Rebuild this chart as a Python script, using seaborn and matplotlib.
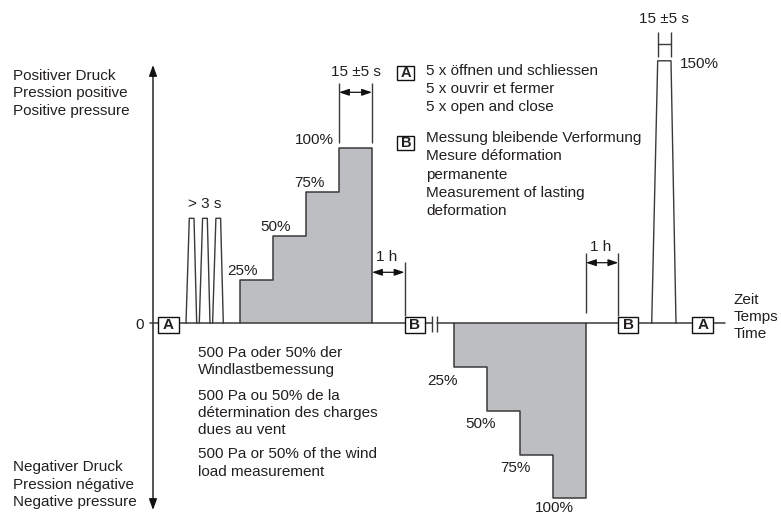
import numpy as np
import matplotlib
matplotlib.use("Agg")
import matplotlib.pyplot as plt
from matplotlib.patches import Rectangle
import seaborn as sns

# test sequence values (percent of test pressure)
pos_steps = [25, 50, 75, 100]
neg_steps = [-25, -50, -75, -100]
pulse_levels = [60, 60, 60]
peak_level = 150
step_labels = ["25%", "50%", "75%", "100%"]

left_top = ["Positiver Druck", "Pression positive", "Positive pressure"]
left_bottom = ["Negativer Druck", "Pression négative", "Negative pressure"]
time_label = ["Zeit", "Temps", "Time"]
legend_a = ["5 x öffnen und schliessen", "5 x ouvrir et fermer", "5 x open and close"]
legend_b = ["Messung bleibende Verformung", "Mesure déformation", "permanente",
            "Measurement of lasting", "deformation"]
note_lines = ["500 Pa oder 50% der", "Windlastbemessung",
              "500 Pa ou 50% de la", "détermination des charges", "dues au vent",
              "500 Pa or 50% of the wind", "load measurement"]

sns.set_theme(style="white")
plt.rcParams['font.family'] = ['Liberation Sans', 'DejaVu Sans']

LINE = '#3a3a3a'
FILL = '#bdbec1'
TXT = '#231f20'
FS = 11

ZERO_PIX = 323.3
PIX_PER_PCT = 1.75


def py(pix):
    # pixel row -> pressure value
    return (ZERO_PIX - pix) / PIX_PER_PCT


fig = plt.figure(figsize=(7.81, 5.16), dpi=100)
ax = fig.add_axes([0, 0, 1, 1])
ax.set_xlim(0, 781)
ax.set_ylim(py(516), py(0))
ax.axis('off')


def stair_outline(x0, w, levels):
    xs, ys = [x0], [0]
    for i, lv in enumerate(levels):
        xs += [x0 + i * w, x0 + (i + 1) * w]
        ys += [lv, lv]
    xs.append(x0 + len(levels) * w)
    ys.append(0)
    return xs, ys


def vline(x, p1, p2, lw=1.0):
    ax.plot([x, x], [py(p1), py(p2)], color=LINE, lw=lw, solid_capstyle='butt')


def dim_arrow(x1, x2, pix):
    ax.annotate('', xy=(x2, py(pix)), xytext=(x1, py(pix)),
                arrowprops=dict(arrowstyle='<|-|>,head_length=0.5,head_width=0.17',
                                color='#111111', lw=0.9, shrinkA=0, shrinkB=0))


def box(x0, x1, p0, p1, letter, fs=FS):
    ax.add_patch(Rectangle((x0, py(p1)), x1 - x0, py(p0) - py(p1), fc='white',
                           ec='#111111', lw=1.0, zorder=5))
    ax.text((x0 + x1) / 2, py((p0 + p1) / 2 + 0.5), letter, ha='center', va='center',
            fontsize=fs, fontweight='bold', color=TXT, zorder=6)


# vertical pressure axis
ax.annotate('', xy=(153, py(65)), xytext=(153, py(510)),
            arrowprops=dict(arrowstyle='<|-|>,head_length=0.55,head_width=0.2',
                            color='#111111', lw=1.0, shrinkA=0, shrinkB=0))

# zero (time) line with break mark
ax.plot([150, 431.7], [0, 0], color=LINE, lw=1.1, zorder=3)
ax.plot([437.3, 725], [0, 0], color=LINE, lw=1.1, zorder=3)
vline(431.7, 315.5, 331.5)
vline(437.3, 315.5, 331.5)

# three short pulses
for i, lv in enumerate(pulse_levels):
    x0 = 186 + i * 13.3
    sns.lineplot(x=[x0, x0 + 3.3, x0 + 8, x0 + 10.7], y=[0, lv, lv, 0], sort=False,
                 estimator=None, color=LINE, lw=1.0, ax=ax)
ax.text(205, py(204), "> 3 s", ha='center', va='center', fontsize=FS, color=TXT)

# positive staircase
w = 33
x0 = 240
edges = x0 + w * np.arange(len(pos_steps) + 1)
ax.fill_between(edges, np.append(pos_steps, pos_steps[-1]), 0, step='post',
                color=FILL, lw=0, zorder=1)
xs, ys = stair_outline(x0, w, pos_steps)
sns.lineplot(x=xs, y=ys, sort=False, estimator=None, color=LINE, lw=1.1, ax=ax)
for i, (lv, lab) in enumerate(zip(pos_steps, step_labels)):
    if i < 3:
        ax.text(x0 + i * w + 3, lv + 5, lab, ha='center', va='center', fontsize=FS, color=TXT)
    else:
        ax.text(x0 + i * w - 5, lv + 5, lab, ha='right', va='center', fontsize=FS, color=TXT)

# 15 +-5 s dimension above 100%
vline(edges[3], 82.7, 143.3)
vline(edges[4], 82.7, 143.3)
dim_arrow(edges[3], edges[4], 92.3)
ax.text((edges[3] + edges[4]) / 2, py(71.5), "15 ±5 s", ha='center', va='center',
        fontsize=FS, color=TXT)

# 1 h after positive
vline(404.5, 262.3, 316)
dim_arrow(edges[4], 404.5, 272.3)
ax.text(387, py(256.5), "1 h", ha='center', va='center', fontsize=FS, color=TXT)

# negative staircase
xn = 454
nedges = xn + w * np.arange(len(neg_steps) + 1)
ax.fill_between(nedges, np.append(neg_steps, neg_steps[-1]), 0, step='post',
                color=FILL, lw=0, zorder=1)
xs, ys = stair_outline(xn, w, neg_steps)
sns.lineplot(x=xs, y=ys, sort=False, estimator=None, color=LINE, lw=1.1, ax=ax)
offs = [-11, -6, -5, 1]
for i, (lv, lab) in enumerate(zip(neg_steps, step_labels)):
    dy = 7.7 if i < 3 else 5.6
    ax.text(nedges[i] + offs[i], lv - dy, lab, ha='center', va='center', fontsize=FS, color=TXT)

# 1 h after negative
vline(nedges[4], 252.7, 313)
vline(618.3, 252.7, 316)
dim_arrow(nedges[4], 618.3, 262.7)
ax.text(601, py(247.3), "1 h", ha='center', va='center', fontsize=FS, color=TXT)

# 150% peak
sns.lineplot(x=[651.7, 657.7, 671, 676], y=[0, peak_level, peak_level, 0], sort=False,
             estimator=None, color=LINE, lw=1.0, ax=ax)
ax.text(680, py(64.5), f"{peak_level}%", ha='left', va='center', fontsize=FS, color=TXT)
vline(657.5, 32.3, 57.3)
vline(671, 32.3, 57.3)
ax.plot([657.5, 671], [py(44.3), py(44.3)], color=LINE, lw=1.0)
ax.text(664.3, py(19), "15 ±5 s", ha='center', va='center', fontsize=FS, color=TXT)

# marker boxes on the time line
box(158, 179, 316.7, 333, "A")
box(405, 425, 316.7, 333, "B")
box(618.3, 638.3, 316.7, 333, "B")
box(692.3, 713.3, 316.7, 333, "A")

# legend boxes
box(397.3, 414.3, 65.5, 79.5, "A", fs=10.5)
box(397.3, 414.3, 135.5, 149.5, "B", fs=10.5)
for i, t in enumerate(legend_a):
    ax.text(426, py(71 + i * 18), t, ha='left', va='center', fontsize=FS, color=TXT)
for i, t in enumerate(legend_b):
    ax.text(426, py(138 + i * 18.3), t, ha='left', va='center', fontsize=FS, color=TXT)

# left axis texts
ax.text(140, py(325), "0", ha='center', va='center', fontsize=FS, color=TXT)
for i, t in enumerate(left_top):
    ax.text(13, py(75.5 + i * 17.5), t, ha='left', va='center', fontsize=FS, color=TXT)
for i, t in enumerate(left_bottom):
    ax.text(13, py(467 + i * 17.5), t, ha='left', va='center', fontsize=FS, color=TXT)
for i, t in enumerate(time_label):
    ax.text(734, py(299.5 + i * 17.3), t, ha='left', va='center', fontsize=FS, color=TXT)

# note under positive staircase
note_y = [352.7, 370, 396, 412.7, 430, 454.3, 472]
for t, yy in zip(note_lines, note_y):
    ax.text(198, py(yy), t, ha='left', va='center', fontsize=FS, color=TXT)

fig.savefig("out.png", dpi=100)
